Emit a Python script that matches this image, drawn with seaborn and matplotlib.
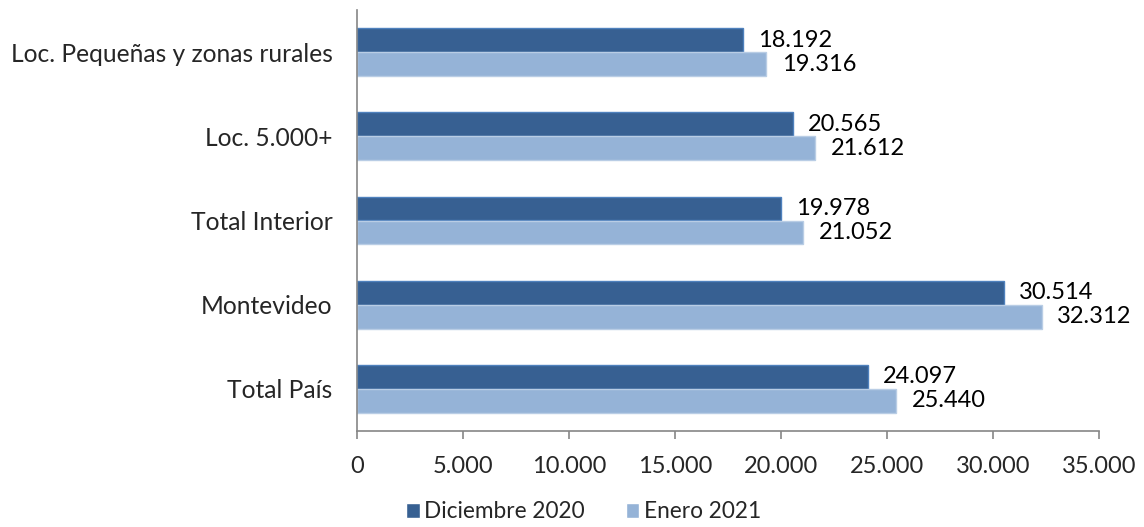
import pandas as pd
import matplotlib.pyplot as plt
import seaborn as sns
from matplotlib.ticker import FuncFormatter

categorias = ['Loc. Pequeñas y zonas rurales', 'Loc. 5.000+', 'Total Interior',
              'Montevideo', 'Total País']
diciembre_2020 = [18192, 20565, 19978, 30514, 24097]
enero_2021 = [19316, 21612, 21052, 32312, 25440]
series = ['Diciembre 2020', 'Enero 2021']
x_ticks = [0, 5000, 10000, 15000, 20000, 25000, 30000, 35000]

df = pd.DataFrame({
    'Categoria': categorias * 2,
    'Serie': [series[0]] * len(categorias) + [series[1]] * len(categorias),
    'Valor': diciembre_2020 + enero_2021,
})

sns.set_style('white')
plt.rcParams['font.family'] = ['Lato', 'DejaVu Sans']

def miles(v):
    return f'{int(round(v)):,}'.replace(',', '.')

fig = plt.figure(figsize=(11.44, 5.27), dpi=100)
ax = fig.add_axes([357 / 1144, 1 - 431 / 527, (1099 - 357) / 1144, (431 - 10) / 527])

sns.barplot(data=df, y='Categoria', x='Valor', hue='Serie', orient='h',
            palette=['#376092', '#95B3D7'], width=0.57, gap=0, ax=ax,
            errorbar=None, saturation=1, legend=True)

edges = ['#4F81BD', '#B9CDE5']
for cont, ec in zip(ax.containers, edges):
    for bar in cont:
        bar.set_edgecolor(ec)
        bar.set_linewidth(1)
    ax.bar_label(cont, labels=[miles(v) for v in cont.datavalues],
                 padding=11, fontsize=17, color='black')

ax.set_xlim(0, 35000)
ax.set_xticks(x_ticks)
ax.xaxis.set_major_formatter(FuncFormatter(lambda v, p: miles(v)))
ax.set_xlabel('')
ax.set_ylabel('')
for s in ['top', 'right']:
    ax.spines[s].set_visible(False)
for s in ['left', 'bottom']:
    ax.spines[s].set_color('#868686')
    ax.spines[s].set_linewidth(1.2)
ax.tick_params(axis='x', bottom=True, direction='out', length=6, width=1.2,
               color='#868686', labelsize=17, pad=12)
ax.tick_params(axis='y', left=False, labelsize=17.7, pad=14)

handles, labels = ax.get_legend_handles_labels()
ax.legend_.remove()
fig.legend(handles, labels, loc='lower center', bbox_to_anchor=(0.51, -0.03),
           ncol=2, frameon=False, fontsize=16.3, handlelength=0.6,
           handleheight=0.6, handletextpad=0.2, columnspacing=1.8)

fig.savefig('out.png', dpi=100)
